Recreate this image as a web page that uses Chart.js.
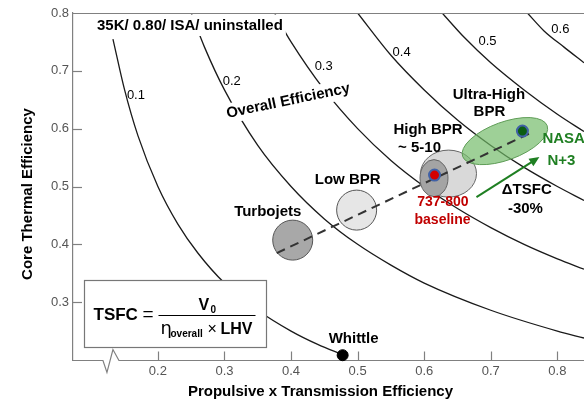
<!DOCTYPE html>
<html><head><meta charset="utf-8">
<script src="https://cdn.jsdelivr.net/npm/chart.js@4"></script>
<style>html,body{margin:0;padding:0;background:#fff;}canvas{display:block;}</style>
</head><body>
<div style="width:584px;height:403px;position:relative"><canvas id="c" width="584" height="403"></canvas></div>
<script>
// ---------------- DATA ----------------
const xTicks = [0.2, 0.3, 0.4, 0.5, 0.6, 0.7, 0.8];
const yTicks = [0.3, 0.4, 0.5, 0.6, 0.7, 0.8];
const xBreak = [0.1175, 0.1415];           // axis break (values on x)

const curveLabels = ['0.1', '0.2', '0.3', '0.4', '0.5', '0.6'];
const curve01X = [0.1325, 0.15, 0.17, 0.2, 0.23, 0.26, 0.3, 0.35, 0.4, 0.44, 0.478];
const curve01Y = [0.755, 0.667, 0.588, 0.5, 0.435, 0.385, 0.333, 0.286, 0.25, 0.227, 0.209];
const curve02X = [0.25, 0.27, 0.3, 0.35, 0.4, 0.45, 0.5, 0.55, 0.6, 0.7, 0.8, 0.84];
const curve02Y = [0.8, 0.741, 0.667, 0.571, 0.5, 0.444, 0.4, 0.364, 0.333, 0.286, 0.25, 0.238];
const curve03X = [0.375, 0.4, 0.45, 0.5, 0.55, 0.6, 0.65, 0.7, 0.75, 0.8, 0.84];
const curve03Y = [0.8, 0.75, 0.667, 0.6, 0.545, 0.5, 0.462, 0.429, 0.4, 0.375, 0.357];
const curve04X = [0.5, 0.55, 0.6, 0.65, 0.7, 0.75, 0.8, 0.84];
const curve04Y = [0.8, 0.727, 0.667, 0.615, 0.571, 0.533, 0.5, 0.476];
const curve05X = [0.627, 0.66, 0.7, 0.75, 0.8, 0.84];
const curve05Y = [0.8, 0.758, 0.714, 0.667, 0.625, 0.595];
const curve06X = [0.755, 0.78, 0.81, 0.84];
const curve06Y = [0.8, 0.769, 0.741, 0.714];

const regionNames = ['Turbojets', 'Low BPR', 'High BPR range', 'High BPR core', 'Ultra-High BPR'];
const regionX = [0.4025, 0.4985, 0.6365, 0.6147, 0.7212];
const regionY = [0.4073, 0.4592, 0.5223, 0.5145, 0.5785];

const pointNames = ['Whittle', '737-800 baseline', 'NASA N+3'];
const pointX = [0.4775, 0.6155, 0.7475];
const pointY = [0.2083, 0.5197, 0.5958];

const trendX = [0.3785, 0.7625];
const trendY = [0.3848, 0.5941];
const arrowX = [0.6785, 0.773];
const arrowY = [0.4817, 0.5509];

// ---------------- STYLE ----------------
const FF = '"Liberation Sans", Arial, Helvetica, sans-serif';
const AXIS = '#808080';
const regionStyle = [
  {rx: 20, ry: 20, rot: 0, fill: '#a8a8a8', stroke: '#555'},
  {rx: 20, ry: 20, rot: 0, fill: '#e6e6e6', stroke: '#555'},
  {rx: 28, ry: 23.5, rot: 0, fill: '#d9d9d9', stroke: '#666'},
  {rx: 14, ry: 18.5, rot: 0, fill: '#a4a4a4', stroke: '#666'},
  {rx: 45, ry: 19, rot: -20 * Math.PI / 180, fill: 'rgba(112,186,102,0.68)', stroke: '#5e9c56'}
];
const pointStyle = [
  {r: 5.5, fill: '#000', stroke: '#000', lw: 1},
  {r: 5.5, fill: '#d40000', stroke: '#4061a6', lw: 2},
  {r: 5.5, fill: '#0b5e12', stroke: '#4061a6', lw: 2}
];

// text annotations (anchored in data coordinates)
const texts = [
  {t: '35K/ 0.80/ ISA/ uninstalled', x: 0.1085, y: 0.7775, f: 'bold 15px', c: '#000', a: 'left', bg: 'top'},
  {t: curveLabels[0], x: 0.167, y: 0.658, f: '13px', c: '#000'},
  {t: curveLabels[1], x: 0.311, y: 0.682, f: '13px', c: '#000'},
  {t: curveLabels[2], x: 0.449, y: 0.708, f: '13px', c: '#000'},
  {t: curveLabels[3], x: 0.566, y: 0.7325, f: '13px', c: '#000'},
  {t: curveLabels[4], x: 0.695, y: 0.7515, f: '13px', c: '#000'},
  {t: curveLabels[5], x: 0.8045, y: 0.772, f: '13px', c: '#000'},
  {t: 'Overall Efficiency', x: 0.3957, y: 0.6478, f: 'bold 15px', c: '#000', rot: -11.75, bg: true},
  {t: 'Turbojets', x: 0.365, y: 0.4557, f: 'bold 15px', c: '#000'},
  {t: 'Low BPR', x: 0.485, y: 0.511, f: 'bold 15px', c: '#000'},
  {t: 'High BPR', x: 0.6057, y: 0.5976, f: 'bold 15px', c: '#000'},
  {t: '~ 5-10', x: 0.593, y: 0.5664, f: 'bold 15px', c: '#000'},
  {t: 'Ultra-High', x: 0.6972, y: 0.6581, f: 'bold 15px', c: '#000'},
  {t: 'BPR', x: 0.698, y: 0.6287, f: 'bold 15px', c: '#000'},
  {t: 'NASA', x: 0.7775, y: 0.582, f: 'bold 15px', c: '#1f7f22', a: 'left'},
  {t: 'N+3', x: 0.806, y: 0.544, f: 'bold 15px', c: '#1f7f22'},
  {t: '737-800', x: 0.628, y: 0.473, f: 'bold 14px', c: '#c00000'},
  {t: 'baseline', x: 0.6275, y: 0.4419, f: 'bold 14px', c: '#c00000'},
  {t: '\u0394TSFC', x: 0.754, y: 0.4938, f: 'bold 15px', c: '#000'},
  {t: '-30%', x: 0.752, y: 0.4609, f: 'bold 15px', c: '#000'},
  {t: 'Whittle', x: 0.494, y: 0.236, f: 'bold 15px', c: '#000'}
];
const formulaBox = {x0: 0.0885, x1: 0.362, y0: 0.338, y1: 0.222};

function curveData(xs, ys) { return xs.map((v, i) => ({x: v, y: ys[i]})); }
const curves = [[curve01X, curve01Y], [curve02X, curve02Y], [curve03X, curve03Y],
                [curve04X, curve04Y], [curve05X, curve05Y], [curve06X, curve06Y]];

const deco = {
  id: 'deco',
  beforeDatasetsDraw(chart) {
    const {ctx, chartArea: a, scales: {x, y}} = chart;
    ctx.save();
    ctx.strokeStyle = AXIS; ctx.lineWidth = 1.2;
    const yb = Math.round(a.bottom) + 0.5;
    const b0 = x.getPixelForValue(xBreak[0]), b1 = x.getPixelForValue(xBreak[1]);
    const w = b1 - b0;
    ctx.beginPath();
    ctx.moveTo(a.left, yb); ctx.lineTo(b0, yb);
    ctx.lineTo(b0 + w * 0.25, yb + 12); ctx.lineTo(b0 + w * 0.625, yb - 11);
    ctx.lineTo(b1, yb); ctx.lineTo(a.right, yb); ctx.stroke();
    xTicks.forEach(v => {
      const px = Math.round(x.getPixelForValue(v)) + 0.5;
      ctx.beginPath(); ctx.moveTo(px, yb); ctx.lineTo(px, yb - 9); ctx.stroke();
    });
    yTicks.forEach(v => {
      if (v >= 0.8) return;
      const py = Math.round(y.getPixelForValue(v)) + 0.5;
      ctx.beginPath(); ctx.moveTo(a.left, py); ctx.lineTo(a.left + 9, py); ctx.stroke();
    });
    // axis titles
    ctx.fillStyle = '#000';
    ctx.font = 'bold 15px ' + FF;
    ctx.textAlign = 'center'; ctx.textBaseline = 'middle';
    ctx.fillText('Propulsive x Transmission Efficiency', (a.left + a.right) / 2 - 8, a.bottom + 32);
    ctx.save();
    ctx.translate(28, y.getPixelForValue(0.487));
    ctx.rotate(-Math.PI / 2);
    ctx.fillText('Core Thermal Efficiency', 0, 0);
    ctx.restore();
    ctx.restore();
  },
  afterDatasetsDraw(chart) {
    const {ctx, chartArea: a, scales: {x, y}} = chart;
    ctx.save();
    // regions
    regionX.forEach((v, i) => {
      const s = regionStyle[i];
      ctx.beginPath();
      ctx.ellipse(x.getPixelForValue(v), y.getPixelForValue(regionY[i]), s.rx, s.ry, s.rot, 0, Math.PI * 2);
      ctx.fillStyle = s.fill; ctx.fill();
      ctx.strokeStyle = s.stroke; ctx.lineWidth = 1; ctx.stroke();
    });
    // dashed trend
    ctx.beginPath();
    ctx.setLineDash([9, 6]);
    ctx.strokeStyle = '#333'; ctx.lineWidth = 2;
    ctx.moveTo(x.getPixelForValue(trendX[0]), y.getPixelForValue(trendY[0]));
    ctx.lineTo(x.getPixelForValue(trendX[1]), y.getPixelForValue(trendY[1]));
    ctx.stroke();
    ctx.setLineDash([]);
    // arrow
    const ax0 = x.getPixelForValue(arrowX[0]), ay0 = y.getPixelForValue(arrowY[0]);
    const ax1 = x.getPixelForValue(arrowX[1]), ay1 = y.getPixelForValue(arrowY[1]);
    const ang = Math.atan2(ay1 - ay0, ax1 - ax0);
    ctx.strokeStyle = '#1f7f22'; ctx.fillStyle = '#1f7f22'; ctx.lineWidth = 2;
    ctx.beginPath(); ctx.moveTo(ax0, ay0);
    ctx.lineTo(ax1 - 6 * Math.cos(ang), ay1 - 6 * Math.sin(ang)); ctx.stroke();
    ctx.beginPath(); ctx.moveTo(ax1, ay1);
    ctx.lineTo(ax1 - 10 * Math.cos(ang) + 4.5 * Math.sin(ang), ay1 - 10 * Math.sin(ang) - 4.5 * Math.cos(ang));
    ctx.lineTo(ax1 - 10 * Math.cos(ang) - 4.5 * Math.sin(ang), ay1 - 10 * Math.sin(ang) + 4.5 * Math.cos(ang));
    ctx.closePath(); ctx.fill();
    // points
    pointX.forEach((v, i) => {
      const s = pointStyle[i];
      ctx.beginPath();
      ctx.arc(x.getPixelForValue(v), y.getPixelForValue(pointY[i]), s.r, 0, Math.PI * 2);
      ctx.fillStyle = s.fill; ctx.fill();
      ctx.strokeStyle = s.stroke; ctx.lineWidth = s.lw; ctx.stroke();
    });
    // texts
    texts.forEach(o => {
      ctx.save();
      ctx.font = o.f + ' ' + FF;
      ctx.textAlign = o.a || 'center'; ctx.textBaseline = 'middle';
      const tx = x.getPixelForValue(o.x), ty = y.getPixelForValue(o.y);
      ctx.translate(tx, ty);
      if (o.rot) ctx.rotate(o.rot * Math.PI / 180);
      if (o.bg) {
        const w = ctx.measureText(o.t).width;
        const lx = (o.a === 'left') ? -3 : -w / 2 - 3;
        ctx.fillStyle = '#fff';
        if (o.bg === 'top') {
          const top = a.top + 1.5 - ty;
          ctx.fillRect(lx, top, w + 6, 10 - top);
        } else {
          ctx.fillRect(lx, -10, w + 6, 20);
        }
      }
      ctx.fillStyle = o.c;
      ctx.fillText(o.t, 0, 0);
      ctx.restore();
    });
    // top border line
    ctx.strokeStyle = AXIS; ctx.lineWidth = 1.2;
    const yt = Math.round(a.top) + 0.5;
    ctx.beginPath(); ctx.moveTo(a.left, yt); ctx.lineTo(a.right, yt); ctx.stroke();
    // formula box
    const bx0 = Math.round(x.getPixelForValue(formulaBox.x0)) + 0.5, bx1 = Math.round(x.getPixelForValue(formulaBox.x1)) + 0.5;
    const by0 = Math.round(y.getPixelForValue(formulaBox.y0)) + 0.5, by1 = Math.round(y.getPixelForValue(formulaBox.y1)) + 0.5;
    ctx.fillStyle = '#fff'; ctx.fillRect(bx0, by0, bx1 - bx0, by1 - by0);
    ctx.strokeStyle = '#777'; ctx.lineWidth = 1.2; ctx.strokeRect(bx0, by0, bx1 - bx0, by1 - by0);
    const cy = (by0 + by1) / 2 + 1;
    ctx.fillStyle = '#000'; ctx.textBaseline = 'middle'; ctx.textAlign = 'left';
    ctx.font = 'bold 17px ' + FF; ctx.fillText('TSFC', bx0 + 9, cy);
    ctx.font = '19px ' + FF; ctx.fillText('=', bx0 + 58, cy);
    ctx.strokeStyle = '#000'; ctx.lineWidth = 1.2;
    ctx.beginPath(); ctx.moveTo(bx0 + 74, cy + 0.5); ctx.lineTo(bx0 + 171, cy + 0.5); ctx.stroke();
    ctx.textBaseline = 'alphabetic';
    ctx.font = 'bold 16px ' + FF; ctx.fillText('V', bx0 + 114, cy - 5);
    ctx.font = 'bold 10px ' + FF; ctx.fillText('0', bx0 + 126, cy - 2);
    ctx.font = '18px "DejaVu Sans", ' + FF; ctx.fillText('\u03b7', bx0 + 76, cy + 19);
    ctx.font = 'bold 10px ' + FF; ctx.fillText('overall', bx0 + 86, cy + 22);
    ctx.font = '16px ' + FF; ctx.fillText('\u00d7', bx0 + 123, cy + 19);
    ctx.font = 'bold 16px ' + FF; ctx.fillText('LHV', bx0 + 136, cy + 19);
    ctx.restore();
  }
};

new Chart(document.getElementById('c'), {
  type: 'scatter',
  data: {
    datasets: curves.map((c, i) => ({
      label: curveLabels[i],
      data: curveData(c[0], c[1]),
      showLine: true,
      borderColor: '#1a1a1a',
      borderWidth: 1.3,
      pointRadius: 0,
      cubicInterpolationMode: 'monotone',
      fill: false
    }))
  },
  options: {
    responsive: false,
    devicePixelRatio: 1,
    animation: false,
    events: [],
    layout: {padding: {top: 13, left: 0, right: 0, bottom: 0}},
    plugins: {legend: {display: false}, tooltip: {enabled: false}},
    scales: {
      x: {
        type: 'linear', min: 0.0725, max: 0.84,
        afterBuildTicks: s => { s.ticks = xTicks.map(v => ({value: v})); },
        afterFit: s => { s.height = 43; },
        grid: {display: true, drawOnChartArea: false, drawTicks: false},
        border: {display: false},
        ticks: {padding: 4, color: '#555', font: {family: FF, size: 13}, callback: v => v.toFixed(1), maxRotation: 0}
      },
      y: {
        type: 'linear', min: 0.2, max: 0.8,
        afterBuildTicks: s => { s.ticks = yTicks.map(v => ({value: v})); },
        afterFit: s => { s.width = 73; },
        grid: {display: true, drawOnChartArea: false, drawTicks: false},
        border: {display: true, color: AXIS, width: 1.2},
        ticks: {padding: 4, color: '#555', font: {family: FF, size: 13}, callback: v => v.toFixed(1)}
      }
    }
  },
  plugins: [deco]
});
</script>
</body></html>
